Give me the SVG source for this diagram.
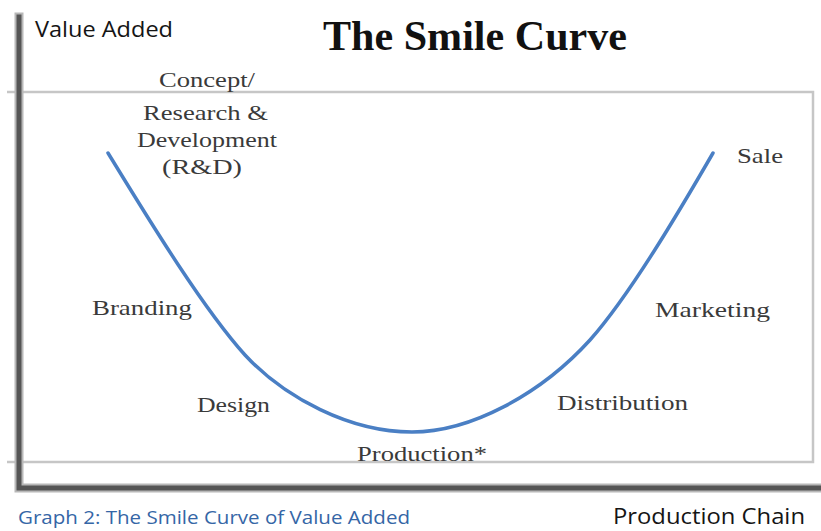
<svg xmlns="http://www.w3.org/2000/svg" width="821" height="531" viewBox="0 0 821 531">
  <style>
    .axis-halo { stroke: #b8b8b8; stroke-width: 9; fill: none; stroke-linecap: square; }
    .axis { stroke: #555555; stroke-width: 5; fill: none; stroke-linecap: square; }
    .frame { stroke: #c6c6c6; stroke-width: 2.5; fill: none; }
    .curve { stroke: #4a7fc4; stroke-width: 3.5; fill: none; stroke-linecap: round; stroke-linejoin: round; }
    .title { font-family: "Liberation Serif", "Times New Roman", serif; font-weight: bold; font-size: 42px; fill: #111111; }
    .stage { font-family: "Liberation Serif", "Times New Roman", serif; font-size: 22px; fill: #3a3a3a; }
    .axis-label { font-family: "Open Sans", "Liberation Sans", sans-serif; font-size: 22px; fill: #151515; }
    .caption { font-family: "Open Sans", "Liberation Sans", sans-serif; font-size: 19px; fill: #3566a6; }
  </style>

  <rect width="821" height="531" fill="#ffffff"/>

  <!-- plot frame -->
  <path class="frame" d="M7,92 H813 V462 H7"/>

  <!-- axes -->
  <g id="axes">
    <path class="axis-halo" d="M19,17 V488 H821"/>
    <path class="axis" d="M19,17 V488 H821"/>
  </g>

  <!-- smile curve -->
  <g id="connectors">
    <path class="curve" d="M108,153
      C140,205 200,305 245,355
      C285,398 350,432 412,432
      C470,432 540,395 590,340
      C630,295 680,210 713,153"/>
  </g>

  <g id="title">
    <text class="title" x="323" y="50" textLength="304" lengthAdjust="spacingAndGlyphs">The Smile Curve</text>
  </g>

  <g id="axis-y-label">
    <text class="axis-label" x="35" y="37" textLength="138" lengthAdjust="spacingAndGlyphs">Value Added</text>
  </g>

  <g id="axis-x-label">
    <text class="axis-label" x="613" y="524" font-size="21" textLength="192" lengthAdjust="spacingAndGlyphs">Production Chain</text>
  </g>

  <g id="caption">
    <text class="caption" x="18" y="524" textLength="392" lengthAdjust="spacingAndGlyphs">Graph 2: The Smile Curve of Value Added</text>
  </g>

  <!-- value-chain stages -->
  <g id="stage-rnd">
    <text class="stage" x="159" y="87" textLength="96" lengthAdjust="spacingAndGlyphs">Concept/</text>
    <text class="stage" x="143" y="120" textLength="125" lengthAdjust="spacingAndGlyphs">Research &amp;</text>
    <text class="stage" x="137" y="147" textLength="140" lengthAdjust="spacingAndGlyphs">Development</text>
    <text class="stage" x="162" y="174" textLength="80" lengthAdjust="spacingAndGlyphs">(R&amp;D)</text>
  </g>
  <g id="stage-branding">
    <text class="stage" x="92" y="315" textLength="100" lengthAdjust="spacingAndGlyphs">Branding</text>
  </g>
  <g id="stage-design">
    <text class="stage" x="197" y="412" textLength="73" lengthAdjust="spacingAndGlyphs">Design</text>
  </g>
  <g id="stage-production">
    <text class="stage" x="357" y="461" textLength="130" lengthAdjust="spacingAndGlyphs">Production*</text>
  </g>
  <g id="stage-distribution">
    <text class="stage" x="557" y="410" textLength="131" lengthAdjust="spacingAndGlyphs">Distribution</text>
  </g>
  <g id="stage-marketing">
    <text class="stage" x="655" y="317" textLength="115" lengthAdjust="spacingAndGlyphs">Marketing</text>
  </g>
  <g id="stage-sale">
    <text class="stage" x="737" y="163" textLength="46" lengthAdjust="spacingAndGlyphs">Sale</text>
  </g>
</svg>
